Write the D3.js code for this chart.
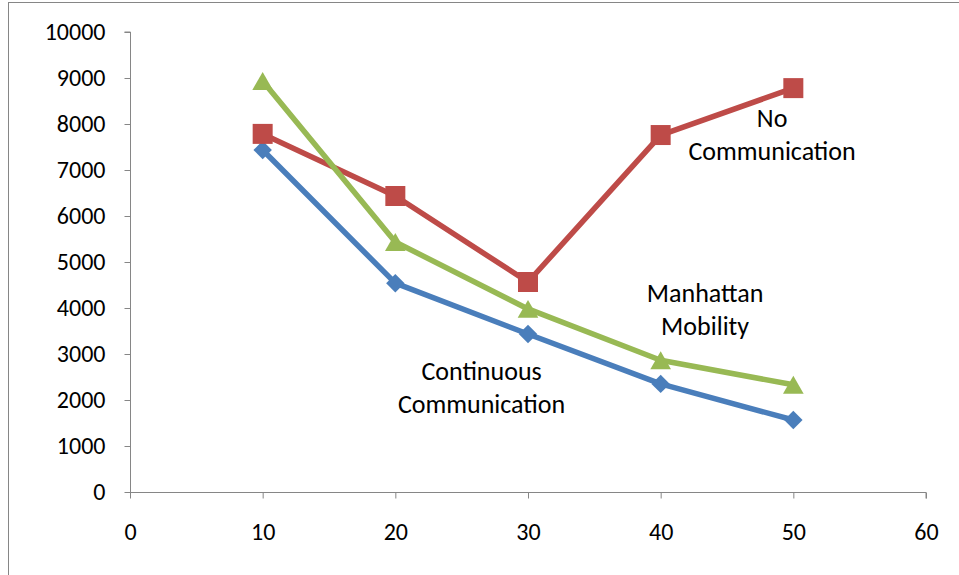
<!DOCTYPE html>
<html>
<head>
<meta charset="utf-8">
<script src="https://cdn.jsdelivr.net/npm/d3@7"></script>
<style>
  html, body { margin: 0; padding: 0; background: #fff; }
  svg { display: block; }
</style>
</head>
<body>
<svg id="chart" width="959" height="575"></svg>
<script>
// Simulation results: x = parameter value, y = measured cost
const xValues = [10, 20, 30, 40, 50];
const continuousComm = [7435, 4540, 3435, 2350, 1565];
const noComm = [7785, 6435, 4565, 7760, 8780];
const manhattan = [8935, 5435, 3980, 2865, 2330];

const xTicks = [0, 10, 20, 30, 40, 50, 60];
const yTicks = [0, 1000, 2000, 3000, 4000, 5000, 6000, 7000, 8000, 9000, 10000];

// A diamond drawn as a square turned 45 degrees (equal width and height)
const squareDiamond = {
  draw(context, size) {
    const r = Math.sqrt(size / 2);
    context.moveTo(0, -r);
    context.lineTo(r, 0);
    context.lineTo(0, r);
    context.lineTo(-r, 0);
    context.closePath();
  }
};

// Triangle centred on its bounding box
const boxTriangle = {
  draw(context, size) {
    const a = Math.sqrt(size * 4 / Math.sqrt(3));
    const h = a * Math.sqrt(3) / 2;
    context.moveTo(0, -h / 2);
    context.lineTo(a / 2, h / 2);
    context.lineTo(-a / 2, h / 2);
    context.closePath();
  }
};

const series = [
  { name: "Continuous Communication", values: continuousComm, color: "#4A7EBB", marker: squareDiamond, size: 170 },
  { name: "No Communication", values: noComm, color: "#BE4B48", marker: d3.symbolSquare, size: 400 },
  { name: "Manhattan Mobility", values: manhattan, color: "#98B954", marker: boxTriangle, size: 185 }
];

// Text labels placed beside each line, in data coordinates (first baseline)
const labels = [
  { lines: ["No", "Communication"], x: 48.4, y: 7935 },
  { lines: ["Manhattan", "Mobility"], x: 43.35, y: 4130 },
  { lines: ["Continuous", "Communication"], x: 26.5, y: 2435 }
];

const svg = d3.select("#chart");
const font = "Carlito, Calibri, Lato, 'Open Sans', sans-serif";

// Outer chart frame
svg.append("rect")
  .attr("x", 8.5).attr("y", 2.5)
  .attr("width", 1000).attr("height", 1000)
  .attr("fill", "none").attr("stroke", "#868686").attr("stroke-width", 1);

const plotLeft = 130, plotRight = 926, plotTop = 32, plotBottom = 492;
const x = d3.scaleLinear().domain([0, 60]).range([plotLeft, plotRight]);
const y = d3.scaleLinear().domain([0, 10000]).range([plotBottom, plotTop]);

const axisColor = "#868686";

const yAxis = svg.append("g")
  .attr("transform", `translate(${plotLeft + 0.5},0)`)
  .call(d3.axisLeft(y).tickValues(yTicks).tickSize(6).tickPadding(19).tickFormat(d3.format("d")));
const xAxis = svg.append("g")
  .attr("transform", `translate(0,${plotBottom + 0.5})`)
  .call(d3.axisBottom(x).tickValues(xTicks).tickSize(6).tickPadding(24).tickFormat(d3.format("d")));

[xAxis, yAxis].forEach(g => {
  g.select(".domain").attr("stroke", axisColor).attr("stroke-width", 1);
  g.selectAll(".tick line").attr("stroke", axisColor);
  g.selectAll(".tick text").attr("fill", "#000").attr("font-family", font).attr("font-size", 24);
});
yAxis.select(".domain").attr("d", `M-6,${plotTop}H0V${plotBottom}`);
xAxis.select(".domain").attr("d", `M${plotLeft},0H${plotRight}V6`);

const line = d3.line().x((d, i) => x(xValues[i])).y(d => y(d));

series.forEach(s => {
  svg.append("path")
    .datum(s.values)
    .attr("d", line)
    .attr("fill", "none")
    .attr("stroke", s.color)
    .attr("stroke-width", 5.5)
    .attr("stroke-linejoin", "round");
});

series.forEach(s => {
  svg.append("g").selectAll("path")
    .data(s.values)
    .join("path")
    .attr("transform", (d, i) => `translate(${x(xValues[i])},${y(d)})`)
    .attr("d", d3.symbol().type(s.marker).size(s.size))
    .attr("fill", s.color);
});

labels.forEach(l => {
  const t = svg.append("text")
    .attr("text-anchor", "middle")
    .attr("font-family", font)
    .attr("font-size", 26)
    .attr("fill", "#000");
  l.lines.forEach((ln, i) => {
    t.append("tspan")
      .attr("x", x(l.x))
      .attr("y", y(l.y) + i * 33)
      .text(ln);
  });
});
</script>
</body>
</html>
